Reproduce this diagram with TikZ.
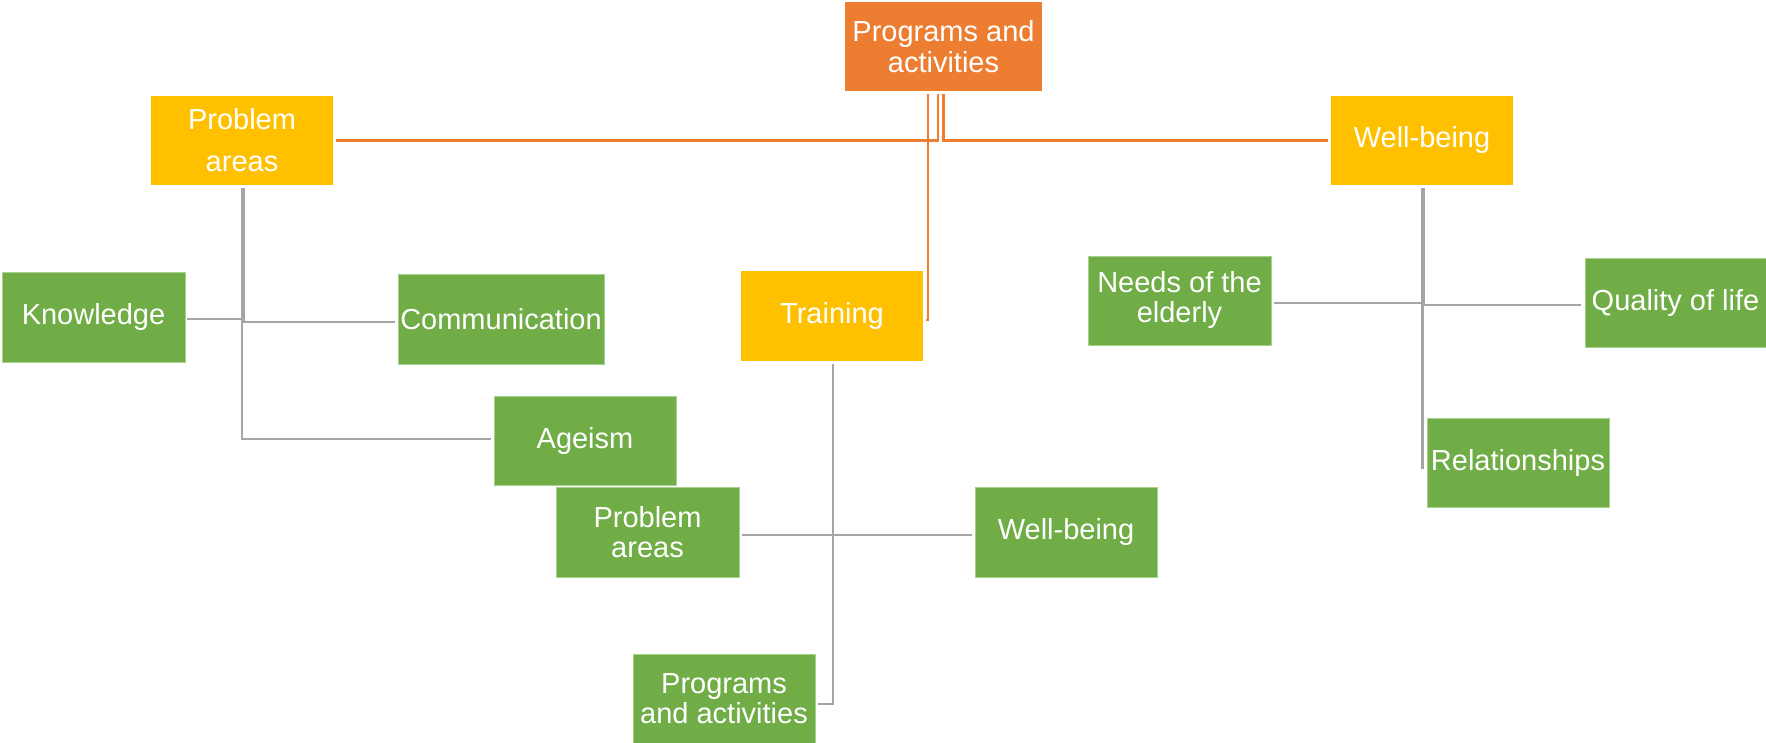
\documentclass[tikz,border=0pt]{standalone}
\usepackage{fontspec}
\setmainfont{Liberation Sans}
\definecolor{orng}{HTML}{ED7D31}
\definecolor{yelw}{HTML}{FFC000}
\definecolor{grn}{HTML}{70AD47}
\definecolor{grnedge}{HTML}{A9D18E}
\definecolor{gry}{HTML}{A5A5A5}
\tikzset{
  cbox/.style={inner sep=0pt, outer sep=0pt, align=center, text=white,
    font={\fontsize{14.5}{15}\selectfont}, minimum height=44.5pt, minimum width=91pt},
  obox/.style={cbox, fill=orng},
  ybox/.style={cbox, fill=yelw},
  gbox/.style={cbox, fill=grn, draw=grnedge, line width=0.4pt},
  oline/.style={draw=orng, line width=1.1pt},
  gline/.style={draw=gry, line width=1.25pt},
}
\begin{document}
\begin{tikzpicture}[x=0.5pt,y=-0.5pt]
\useasboundingbox (0,0) rectangle (1766,743);
% top and level-1 nodes
\node[obox, minimum width=98.5pt, font={\fontsize{14.5}{15.5}\selectfont}] (prog) at (943.5,46.5) {Programs and\\activities};
\node[ybox, font={\fontsize{14.5}{21}\selectfont}] (pa) at (242,140.5) {Problem\\areas};
\node[ybox] (wb) at (1422,140.5) {Well-being};
\node[ybox, minimum height=45pt] (tr) at (832,316) {Training};
% green nodes
\node[gbox, minimum width=91.5pt, minimum height=45pt] (kn) at (93.5,317) {Knowledge};
\node[gbox, minimum width=103pt, minimum height=45pt] (com) at (501,319) {Communication};
\node[gbox] (age) at (585,440.5) {Ageism};
\node[gbox, minimum width=91.5pt, minimum height=45pt] (pa2) at (647.5,532) {Problem\\areas};
\node[gbox, minimum height=45pt] (wb2) at (1066,532) {Well-being};
\node[gbox] (pg2) at (724,698.5) {Programs\\and activities};
\node[gbox, minimum width=91.5pt] (need) at (1179.5,300.5) {Needs of the\\elderly};
\node[gbox, minimum width=90.5pt] (qual) at (1675.5,303) {Quality of life};
\node[gbox] (rel) at (1518,462.5) {Relationships};
% orange connectors
\draw[oline] ([shift={(-5.5,3)}]prog.south) |- ([xshift=1.5pt]pa.east);
\draw[oline] ([shift={(0,3)}]prog.south) |- ([xshift=-1.5pt]wb.west);
\draw[oline] ([shift={(-15.5,3)}]prog.south) |- ([shift={(3,4)}]tr.east);
% grey connectors: Problem areas
\draw[gline] ([shift={(1.5,3)}]pa.south) |- ([shift={(2,2)}]kn.east);
\draw[gline] ([shift={(1.5,3)}]pa.south) |- ([shift={(-3,3)}]com.west);
\draw[gline] ([shift={(0,3)}]pa.south) |- ([shift={(-3,-1.5)}]age.west);
% grey connectors: Training
\draw[gline] ([shift={(1,3)}]tr.south) |- ([shift={(3,3)}]pa2.east);
\draw[gline] ([shift={(1,3)}]tr.south) |- ([shift={(-3,3)}]wb2.west);
\draw[gline] ([shift={(1,3)}]tr.south) |- ([shift={(3,5.5)}]pg2.east);
% grey connectors: Well-being
\draw[gline] ([shift={(2,3)}]wb.south) |- ([shift={(3,2.5)}]need.east);
\draw[gline] ([shift={(2,3)}]wb.south) |- ([shift={(-4,2)}]qual.west);
\draw[gline] ([shift={(0.5,3)}]wb.south) |- ([shift={(-4,5.5)}]rel.west);
\end{tikzpicture}
\end{document}
